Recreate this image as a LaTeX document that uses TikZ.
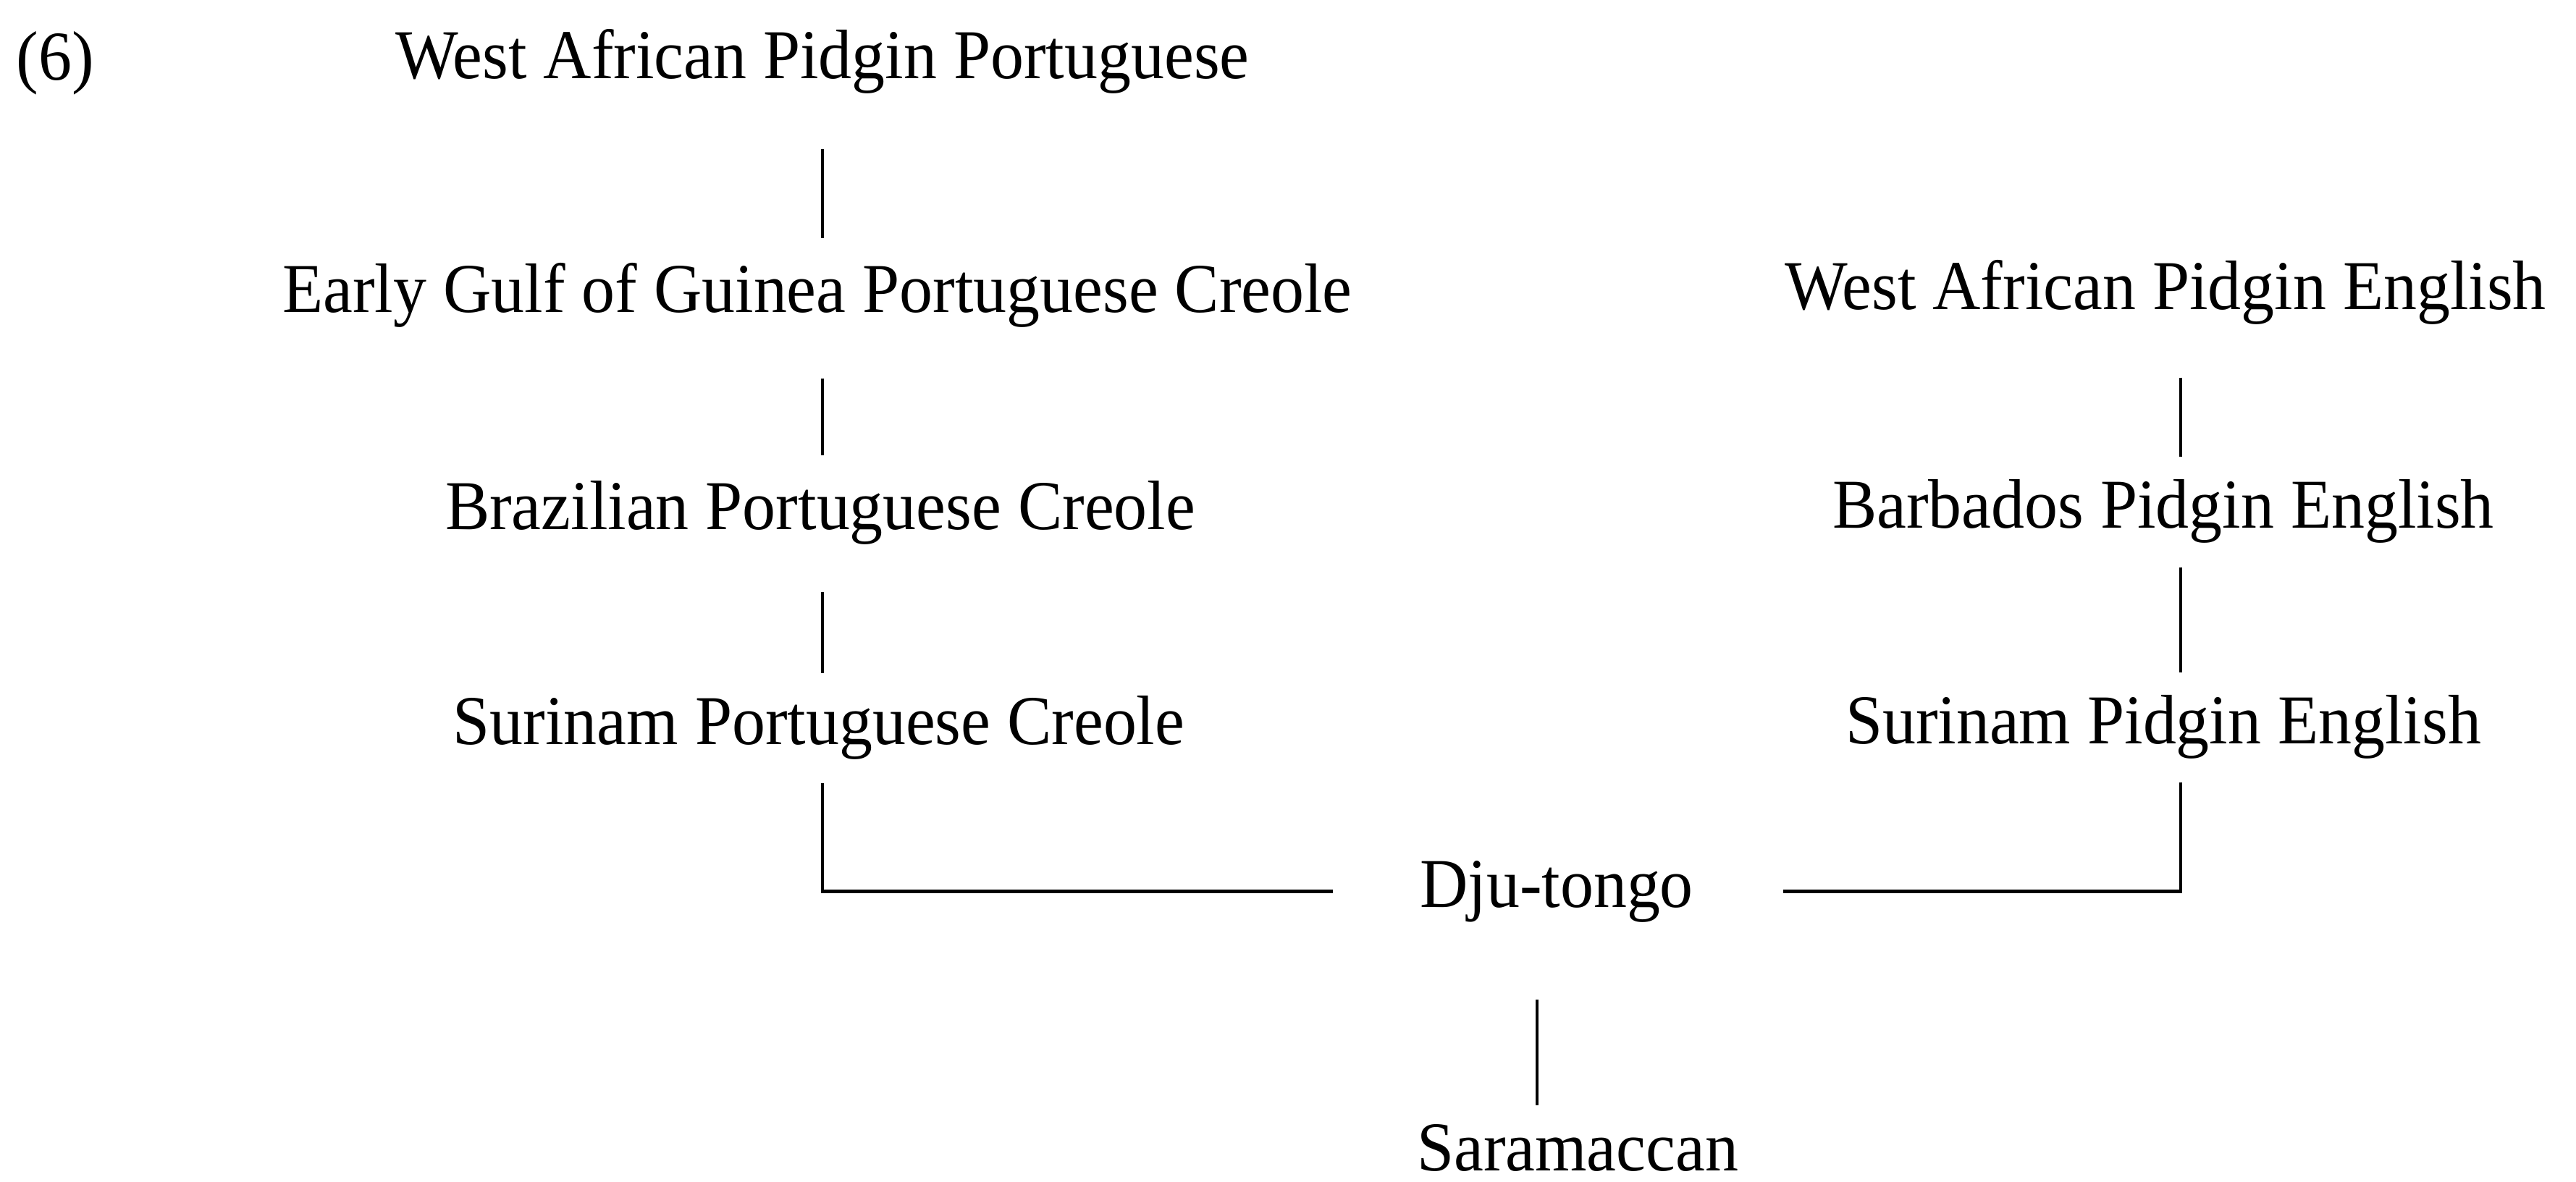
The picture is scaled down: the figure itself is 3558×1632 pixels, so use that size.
\documentclass[tikz,border=0pt]{standalone}
\usepackage{fontspec}
\setmainfont{Liberation Serif}[FakeStretch=0.95]
\begin{document}
\begin{tikzpicture}[x=0.01cm,y=-0.01cm,
  lbl/.style={anchor=base,inner sep=0pt,font=\fontsize{27.5}{30}\selectfont},
  vline/.style={line width=0.9pt},
  hline/.style={line width=1.3pt}]
\useasboundingbox[fill=white] (0,0) rectangle (3558,1632);
\coordinate (lx) at (1136,0);
\coordinate (rx) at (3012,0);
\coordinate (mx) at (2123,0);
% nodes
\node[lbl,anchor=base west] (num) at (22,110) {(6)};
\node[lbl] (wapp) at (1136,108) {West African Pidgin Portuguese};
\node[lbl] (egg)  at (1129,431) {Early Gulf of Guinea Portuguese Creole};
\node[lbl] (bpc)  at (1133,731) {Brazilian Portuguese Creole};
\node[lbl] (spc)  at (1131,1028) {Surinam Portuguese Creole};
\node[lbl] (wape) at (2991,427) {West African Pidgin English};
\node[lbl] (bpe)  at (2988,729) {Barbados Pidgin English};
\node[lbl] (spe)  at (2988,1027) {Surinam Pidgin English};
\node[lbl] (dju)  at (2150,1253) {Dju-tongo};
\node[lbl] (sar)  at (2179,1617) {Saramaccan};
% connectors
\draw[vline,shorten <=0.76cm,shorten >=0.33cm] (wapp.south -| lx) -- (egg.north -| lx);
\draw[vline,shorten <=0.70cm,shorten >=0.34cm] (egg.south -| lx) -- (bpc.north -| lx);
\draw[vline,shorten <=0.65cm,shorten >=0.30cm] (bpc.south -| lx) -- (spc.north -| lx);
\draw[vline,shorten <=0.73cm,shorten >=0.30cm] (wape.south -| rx) -- (bpe.north -| rx);
\draw[vline,shorten <=0.33cm,shorten >=0.30cm] (bpe.south -| rx) -- (spe.north -| rx);
\draw[hline,shorten <=0.32cm,shorten >=1.19cm] (spc.south -| lx) |- (dju.west);
\draw[hline,shorten <=0.32cm,shorten >=1.23cm] (spe.south -| rx) |- (dju.east);
\draw[vline,shorten <=1.06cm,shorten >=0.25cm] (dju.south -| mx) -- (sar.north -| mx);
\end{tikzpicture}
\end{document}
